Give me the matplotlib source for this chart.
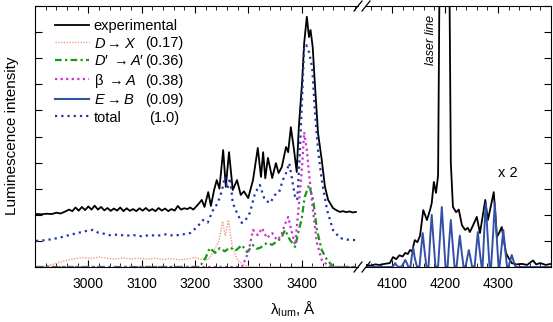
import numpy as np
import matplotlib
matplotlib.use("Agg")
import matplotlib.pyplot as plt
from matplotlib.lines import Line2D
from matplotlib.ticker import MultipleLocator

plt.rcParams['font.family'] = ['Liberation Sans', 'DejaVu Sans']
plt.rcParams['mathtext.fontset'] = 'custom'
plt.rcParams['mathtext.rm'] = 'Liberation Sans'
plt.rcParams['mathtext.it'] = 'Liberation Sans:italic'
plt.rcParams['mathtext.bf'] = 'Liberation Sans:bold'

# ---- left panel (UV region) ----
exp_wl = [2902, 2912, 2922, 2932, 2940, 2948, 2956, 2964, 2970, 2976, 2982, 2988, 2994,
          3000, 3006, 3012, 3018, 3024, 3030, 3036, 3042, 3048, 3054, 3060, 3066, 3072,
          3078, 3084, 3090, 3096, 3102, 3108, 3114, 3120, 3126, 3132, 3138, 3144, 3150,
          3156, 3162, 3168, 3174, 3180, 3186, 3191, 3197, 3204, 3213, 3218, 3225, 3230,
          3236, 3241, 3246, 3253, 3258, 3264, 3271, 3279, 3286, 3292, 3300, 3309, 3318,
          3324, 3328, 3332, 3337, 3345, 3352, 3357, 3363, 3371, 3375, 3380, 3386, 3391,
          3395, 3401, 3405, 3410, 3414, 3417, 3421, 3425, 3431, 3438, 3444, 3450, 3455,
          3459, 3465, 3472, 3478, 3484, 3490, 3496, 3502]
exp_val = [2.03, 2.02, 2.04, 2.03, 2.08, 2.05, 2.12, 2.2, 2.14, 2.28, 2.16, 2.3, 2.18,
           2.32, 2.2, 2.35, 2.2, 2.3, 2.17, 2.26, 2.15, 2.24, 2.16, 2.28, 2.14, 2.25,
           2.15, 2.22, 2.14, 2.25, 2.16, 2.26, 2.15, 2.22, 2.14, 2.26, 2.16, 2.24, 2.14,
           2.22, 2.16, 2.34, 2.2, 2.25, 2.22, 2.28, 2.2, 2.35, 2.57, 2.3, 2.87, 2.34,
           2.95, 3.33, 3.0, 4.48, 3.07, 4.4, 2.95, 3.33, 2.76, 2.9, 2.64, 3.33, 4.56,
           3.45, 4.4, 3.4, 4.18, 3.41, 3.98, 3.6, 3.83, 4.6, 4.4, 5.36, 4.48, 3.64,
           5.36, 7.05, 8.58, 9.59, 8.81, 9.08, 8.43, 7.05, 5.13, 4.1, 3.07, 2.57, 2.4,
           2.26, 2.18, 2.11, 2.14, 2.1, 2.13, 2.09, 2.11]

dx_wl = [2902, 2915, 2930, 2945, 2960, 2975, 2990, 3005, 3020, 3035, 3050, 3065, 3080,
         3095, 3110, 3125, 3140, 3155, 3170, 3185, 3200, 3212, 3225, 3235, 3245, 3252,
         3257, 3263, 3270, 3280, 3295, 3310, 3502]
dx_val = [0.0, 0.02, 0.08, 0.18, 0.26, 0.32, 0.36, 0.33, 0.38, 0.34, 0.3, 0.35, 0.31,
          0.34, 0.3, 0.33, 0.29, 0.32, 0.28, 0.3, 0.36, 0.3, 0.28, 0.6, 1.0, 1.75,
          1.2, 1.8, 0.8, 0.25, 0.05, 0.0, 0.0]

da_wl = [2902, 3205, 3212, 3220, 3228, 3238, 3247, 3256, 3266, 3276, 3288, 3298, 3309,
         3316, 3322, 3335, 3345, 3355, 3362, 3369, 3378, 3388, 3396, 3400, 3406, 3414,
         3422, 3429, 3438, 3448, 3458, 3470, 3502]
da_val = [0.0, 0.0, 0.1, 0.35, 0.73, 0.54, 0.73, 0.6, 0.75, 0.62, 0.84, 0.57, 0.84,
          0.7, 0.73, 0.92, 0.85, 1.0, 1.1, 1.42, 1.05, 0.77, 1.5, 1.8, 2.68, 3.14,
          2.57, 1.42, 0.65, 0.27, 0.05, 0.0, 0.0]

ba_wl = [2902, 3288, 3300, 3309, 3318, 3326, 3335, 3345, 3354, 3362, 3368, 3375, 3381,
         3388, 3393, 3401, 3405, 3410, 3414, 3422, 3429, 3438, 3450, 3460, 3502]
ba_val = [0.0, 0.0, 0.54, 1.42, 1.22, 1.49, 1.11, 1.3, 1.03, 1.2, 1.6, 1.92, 1.4,
          0.84, 1.92, 3.83, 5.17, 4.48, 3.6, 2.07, 0.92, 0.27, 0.05, 0.0, 0.0]

tot_wl = [2902, 2915, 2930, 2945, 2960, 2975, 2990, 3000, 3009, 3018, 3028, 3040, 3055,
          3070, 3085, 3100, 3115, 3130, 3145, 3160, 3175, 3191, 3204, 3215, 3224, 3234,
          3243, 3251, 3256, 3261, 3266, 3271, 3279, 3288, 3295, 3303, 3313, 3322, 3331,
          3341, 3350, 3358, 3365, 3371, 3377, 3382, 3388, 3392, 3396, 3401, 3405, 3409,
          3414, 3420, 3425, 3431, 3438, 3448, 3459, 3472, 3485, 3502]
tot_val = [1.0, 1.02, 1.06, 1.12, 1.2, 1.28, 1.35, 1.4, 1.42, 1.32, 1.28, 1.22, 1.24,
           1.2, 1.22, 1.18, 1.22, 1.2, 1.25, 1.2, 1.24, 1.3, 1.53, 1.8, 1.7, 2.18,
           2.45, 2.95, 3.45, 3.0, 3.41, 2.45, 2.07, 1.69, 1.8, 2.07, 2.84, 3.14, 2.57,
           2.45, 2.76, 2.87, 3.33, 3.6, 3.98, 3.4, 2.68, 2.57, 4.0, 6.4, 8.43, 8.5,
           8.24, 7.66, 6.0, 4.48, 3.33, 2.18, 1.42, 1.11, 1.05, 1.03]

# ---- right panel (near laser line) ----
exp2_wl = [4052, 4060, 4068, 4077, 4086, 4096, 4102, 4108, 4114, 4120, 4125, 4130, 4134,
           4138, 4143, 4148, 4153, 4159, 4166, 4172, 4175, 4179, 4183, 4187, 4190, 4208,
           4211, 4215, 4221, 4226, 4232, 4238, 4243, 4247, 4253, 4260, 4266, 4276, 4281,
           4292, 4298, 4302, 4307, 4315, 4320, 4326, 4335, 4345, 4355, 4366, 4372, 4380,
           4390, 4400]
exp2_val = [0.08, 0.05, 0.1, 0.08, 0.12, 0.15, 0.38, 0.3, 0.45, 0.4, 0.54, 0.5, 0.65,
            0.6, 1.03, 0.95, 1.2, 2.18, 1.8, 2.2, 2.45, 3.26, 2.84, 3.5, 12.0, 12.0,
            4.0, 2.3, 2.1, 2.2, 1.6, 1.42, 1.5, 1.34, 1.6, 1.92, 1.3, 2.57, 1.8,
            2.87, 1.15, 1.3, 1.53, 0.54, 0.35, 0.15, 0.1, 0.12, 0.08, 0.25, 0.1, 0.15,
            0.08, 0.12]

eb_wl = [4052, 4100, 4104, 4106, 4108, 4112, 4118, 4122, 4125, 4128, 4131, 4135, 4137,
         4140, 4143, 4147, 4152, 4155, 4158, 4161, 4165, 4169, 4172, 4175, 4178, 4182,
         4187, 4191, 4194, 4197, 4201, 4205, 4208, 4211, 4214, 4218, 4222, 4225, 4228,
         4231, 4235, 4239, 4242, 4245, 4248, 4251, 4256, 4259, 4262, 4265, 4269, 4271,
         4274, 4277, 4280, 4284, 4287, 4291, 4294, 4297, 4301, 4303, 4307, 4310, 4313,
         4317, 4320, 4323, 4326, 4329, 4333, 4400]
eb_val = [0.0, 0.0, 0.08, 0.15, 0.08, 0.0, 0.02, 0.15, 0.27, 0.15, 0.0, 0.02, 0.35,
          0.75, 0.35, 0.02, 0.02, 0.7, 1.3, 0.7, 0.02, 0.02, 1.1, 2.0, 1.1, 0.02,
          0.02, 1.3, 2.3, 1.3, 0.02, 0.02, 1.0, 1.8, 1.0, 0.02, 0.02, 0.65, 1.2,
          0.65, 0.02, 0.02, 0.35, 0.65, 0.35, 0.02, 0.02, 0.7, 1.34, 0.7, 0.02, 0.02,
          1.35, 2.45, 1.35, 0.02, 0.02, 1.35, 2.45, 1.35, 0.02, 0.02, 0.8, 1.42, 0.8,
          0.02, 0.02, 0.25, 0.46, 0.25, 0.0, 0.0]

legend_names = ['experimental', r'$D \rightarrow X$', '$D$′$\\;\\rightarrow A$′',
                r'β $\rightarrow A$', r'$E \rightarrow B$', 'total']
legend_nums = ['', '(0.17)', '(0.36)', '(0.38)', '(0.09)', '(1.0)']

W, H = 553, 322
fig = plt.figure(figsize=(W / 100, H / 100), dpi=100)
ax1 = fig.add_axes([35 / W, 1 - 267 / H, (358 - 35) / W, (267 - 6) / H])
ax2 = fig.add_axes([366 / W, 1 - 267 / H, (551 - 366) / W, (267 - 6) / H])

c_exp = 'black'
c_dx = '#f09a88'
c_da = '#159a15'
c_ba = '#cc33cc'
c_eb = '#3350a8'
c_tot = '#2236a8'

l_exp, = ax1.plot(exp_wl, exp_val, color=c_exp, lw=1.3)
l_dx, = ax1.plot(dx_wl, dx_val, color=c_dx, lw=1.0, ls=(0, (1, 1)))
l_da, = ax1.plot(da_wl, da_val, color=c_da, lw=1.6, ls=(0, (3, 1.5, 1, 1.5)))
l_ba, = ax1.plot(ba_wl, ba_val, color=c_ba, lw=1.6, ls=(0, (1, 1.5)))
l_tot, = ax1.plot(tot_wl, tot_val, color=c_tot, lw=1.6, ls=(0, (1, 1.8)))
l_eb = Line2D([], [], color=c_eb, lw=1.5)

ax2.plot(exp2_wl, exp2_val, color=c_exp, lw=1.3)
ax2.plot(eb_wl, eb_val, color=c_eb, lw=1.4)

ax1.set_xlim(2900, 3506)
ax2.set_xlim(4051, 4400)
for ax in (ax1, ax2):
    ax.set_ylim(0, 10)
    ax.xaxis.set_major_locator(MultipleLocator(100))
    ax.xaxis.set_minor_locator(MultipleLocator(20))
    ax.yaxis.set_major_locator(MultipleLocator(1))
    ax.tick_params(which='both', direction='in', top=True, labelsize=10, pad=7)
    ax.tick_params(which='major', length=5)
    ax.tick_params(which='minor', length=3)
    ax.set_yticklabels([])

ax1.set_xticks([3000, 3100, 3200, 3300, 3400])
ax2.set_xticks([4100, 4200, 4300])
ax1.spines['right'].set_visible(False)
ax2.spines['left'].set_visible(False)
ax1.tick_params(axis='y', left=True, right=False)
ax2.tick_params(axis='y', left=False, right=True)

# break marks
for y0 in (6, 267):
    for x0 in (358, 366):
        fig.add_artist(Line2D([(x0 - 4) / W, (x0 + 4) / W],
                              [1 - (y0 + 5) / H, 1 - (y0 - 5) / H],
                              color='black', lw=0.9, transform=fig.transFigure))

ax2.text(4174, 8.7, 'laser line', rotation=90, style='italic', fontsize=9,
         ha='center', va='center')
ax2.text(4318, 3.6, 'x 2', fontsize=10.5, ha='center', va='center')

fig.text(12 / W, 1 - 136 / H, 'Luminescence intensity', rotation=90,
         fontsize=11, ha='center', va='center')
fig.text(293 / W, 1 - 309 / H, r'$\mathregular{\lambda_{lum}}$, Å',
         fontsize=11, ha='center', va='center')

leg = ax1.legend([l_exp, l_dx, l_da, l_ba, l_eb, l_tot], legend_names,
                 loc='upper left', bbox_to_anchor=(55 / W, 1 - 19 / H),
                 bbox_transform=fig.transFigure, frameon=False, fontsize=10.5,
                 handlelength=2.3, handletextpad=0.35, labelspacing=0.24,
                 borderpad=0, borderaxespad=0)

fig.canvas.draw()
inv = fig.transFigure.inverted()
for txt, num in zip(leg.get_texts(), legend_nums):
    if not num:
        continue
    bb = txt.get_window_extent()
    yc = inv.transform((0, (bb.y0 + bb.y1) / 2))[1]
    fig.text(164 / W, yc, num, fontsize=10.5, ha='center', va='center')

fig.savefig('out.png', dpi=100)
